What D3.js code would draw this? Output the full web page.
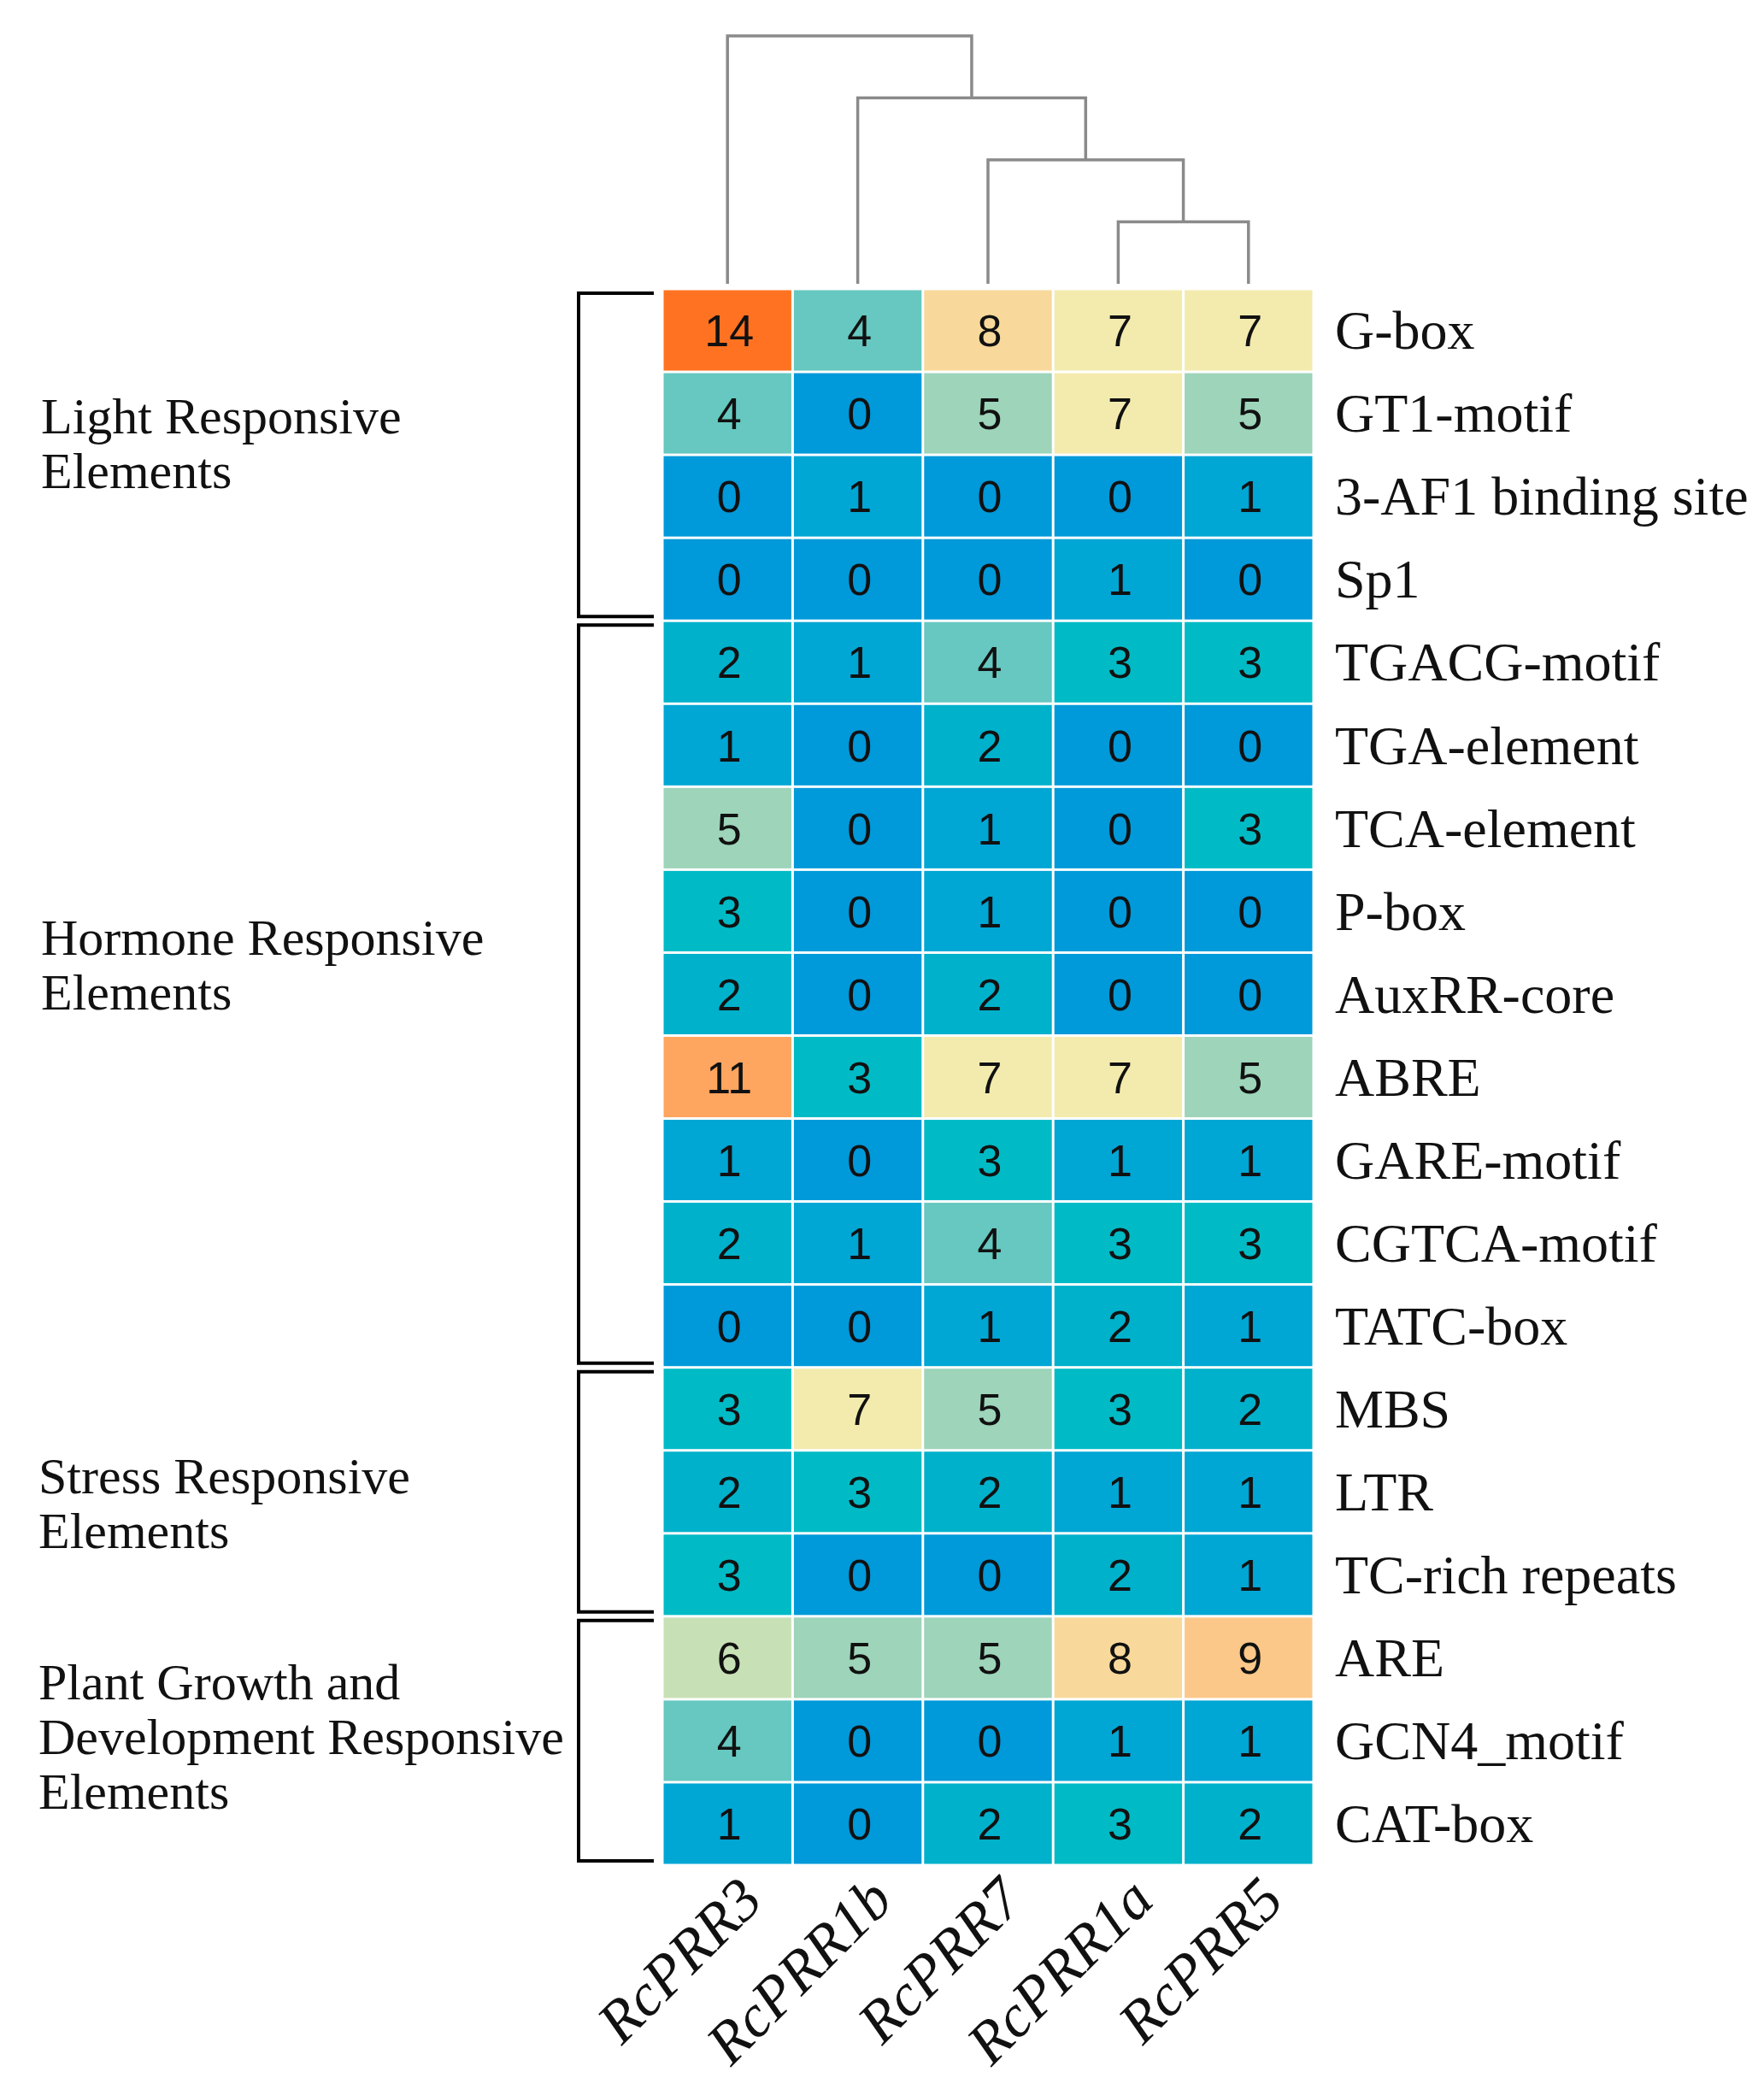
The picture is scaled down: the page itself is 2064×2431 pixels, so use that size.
<!DOCTYPE html>
<html>
<head>
<meta charset="utf-8">
<script src="https://cdn.jsdelivr.net/npm/d3@7"></script>
<style>
  html, body { margin: 0; padding: 0; background: #ffffff; }
  svg { display: block; }
</style>
</head>
<body>
<svg id="chart" width="2064" height="2431"></svg>
<script>
// ---------------- DATA ----------------
const columns = ["RcPRR3", "RcPRR1b", "RcPRR7", "RcPRR1a", "RcPRR5"];

const elements = [
  "G-box", "GT1-motif", "3-AF1 binding site", "Sp1",
  "TGACG-motif", "TGA-element", "TCA-element", "P-box", "AuxRR-core",
  "ABRE", "GARE-motif", "CGTCA-motif", "TATC-box",
  "MBS", "LTR", "TC-rich repeats",
  "ARE", "GCN4_motif", "CAT-box"
];

// counts per gene (one array per column, in element order)
const rcPRR3  = [14, 4, 0, 0, 2, 1, 5, 3, 2, 11, 1, 2, 0, 3, 2, 3, 6, 4, 1];
const rcPRR1b = [ 4, 0, 1, 0, 1, 0, 0, 0, 0,  3, 0, 1, 0, 7, 3, 0, 5, 0, 0];
const rcPRR7  = [ 8, 5, 0, 0, 4, 2, 1, 1, 2,  7, 3, 4, 1, 5, 2, 0, 5, 0, 2];
const rcPRR1a = [ 7, 7, 0, 1, 3, 0, 0, 0, 0,  7, 1, 3, 2, 3, 1, 2, 8, 1, 3];
const rcPRR5  = [ 7, 5, 1, 0, 3, 0, 3, 0, 0,  5, 1, 3, 1, 2, 1, 1, 9, 1, 2];
const seriesValues = [rcPRR3, rcPRR1b, rcPRR7, rcPRR1a, rcPRR5];

// element groups: label lines and number of rows they span
const groupNames = [
  ["Light Responsive", "Elements"],
  ["Hormone Responsive", "Elements"],
  ["Stress Responsive", "Elements"],
  ["Plant Growth and", "Development Responsive", "Elements"]
];
const groupSizes = [4, 9, 3, 3];

// column dendrogram (merge heights)
const dendrogram = {
  height: 4, children: [
    { leaf: "RcPRR3" },
    { height: 3, children: [
      { leaf: "RcPRR1b" },
      { height: 2, children: [
        { leaf: "RcPRR7" },
        { height: 1, children: [ { leaf: "RcPRR1a" }, { leaf: "RcPRR5" } ] }
      ]}
    ]}
  ]
};

// colour key: value -> colour
const colorValues = [0, 1, 2, 3, 4, 5, 6, 7, 8, 9, 11, 14];
const colorHexes  = ["#0099d9", "#00a6d4", "#00b1cb", "#00bbc5", "#66c8c0", "#9dd4ba",
                     "#c8e0b5", "#f3ebae", "#f8d99b", "#fbc88a", "#fea55f", "#ff7222"];

// ---------------- LAYOUT ----------------
const W = 2064, H = 2431;
const heat = { left: 775, right: 1537, top: 338, bottom: 2182 };
const serif = "'Liberation Serif', 'Times New Roman', serif";
const sans = "'Liberation Sans', Arial, sans-serif";

const svg = d3.select("#chart").attr("viewBox", `0 0 ${W} ${H}`);
svg.append("rect").attr("width", W).attr("height", H).attr("fill", "#fff");

const x = d3.scaleBand().domain(columns).range([heat.left, heat.right]);
const y = d3.scaleBand().domain(elements).range([heat.top, heat.bottom]);
const color = d3.scaleLinear().domain(colorValues).range(colorHexes);

// cells
const cells = [];
columns.forEach((c, ci) => {
  elements.forEach((e, ri) => cells.push({ col: c, row: e, v: seriesValues[ci][ri] }));
});
const gap = 3;
const cellG = svg.append("g");
cellG.selectAll("rect").data(cells).join("rect")
  .attr("x", d => x(d.col) + gap / 2)
  .attr("y", d => y(d.row) + gap / 2)
  .attr("width", x.bandwidth() - gap)
  .attr("height", y.bandwidth() - gap)
  .attr("fill", d => color(d.v));

cellG.selectAll("text").data(cells).join("text")
  .attr("x", d => x(d.col) + x.bandwidth() / 2 + 2)
  .attr("y", d => y(d.row) + y.bandwidth() / 2)
  .attr("dy", "0.36em")
  .attr("text-anchor", "middle")
  .attr("font-family", sans)
  .attr("font-size", 52)
  .attr("fill", "#111")
  .text(d => d.v);

// row labels
svg.append("g").selectAll("text").data(elements).join("text")
  .attr("x", heat.right + 25)
  .attr("y", d => y(d) + y.bandwidth() / 2)
  .attr("dy", "0.34em")
  .attr("font-family", serif)
  .attr("font-size", 64)
  .attr("fill", "#111")
  .text(d => d);

// column labels
svg.append("g").selectAll("text").data(columns).join("text")
  .attr("transform", d => `translate(${x(d) + x.bandwidth() / 2 + 44},${heat.bottom + 44}) rotate(-45)`)
  .attr("text-anchor", "end")
  .attr("font-family", serif)
  .attr("font-style", "italic")
  .attr("font-size", 70)
  .attr("fill", "#111")
  .text(d => d);

// dendrogram
const root = d3.hierarchy(dendrogram);
const hY = d3.scaleLinear().domain([0, 4]).range([332, 42]);
root.eachAfter(n => {
  if (n.data.leaf) { n.px = x(n.data.leaf) + x.bandwidth() / 2; n.py = hY(0); }
  else { n.px = d3.mean(n.children, c => c.px); n.py = hY(n.data.height); }
});
const dendroG = svg.append("g");
root.each(n => {
  if (!n.children) return;
  const [a, b] = n.children;
  dendroG.append("path")
    .attr("d", `M${a.px},${a.py}V${n.py}H${b.px}V${b.py}`)
    .attr("fill", "none")
    .attr("stroke", "#8a8a8a")
    .attr("stroke-width", 3.5);
});

// group brackets and labels
const bracketX = 677, armX = 765, inset = 5;
const groupLabelPos = [
  { x: 48, y: 507 }, { x: 48, y: 1117 }, { x: 45, y: 1747 }, { x: 45, y: 1988 }
];
const lineH = 64;
let startIdx = 0;
groupSizes.forEach((n, gi) => {
  const top = y(elements[startIdx]) + inset;
  const bot = y(elements[startIdx + n - 1]) + y.bandwidth() - inset;
  svg.append("path")
    .attr("d", `M${armX},${top}H${bracketX}V${bot}H${armX}`)
    .attr("fill", "none")
    .attr("stroke", "#000")
    .attr("stroke-width", 4);
  const t = svg.append("text")
    .attr("font-family", serif)
    .attr("font-size", 60)
    .attr("fill", "#111");
  groupNames[gi].forEach((line, li) => {
    t.append("tspan")
      .attr("x", groupLabelPos[gi].x)
      .attr("y", groupLabelPos[gi].y + li * lineH)
      .text(line);
  });
  startIdx += n;
});
</script>
</body>
</html>
